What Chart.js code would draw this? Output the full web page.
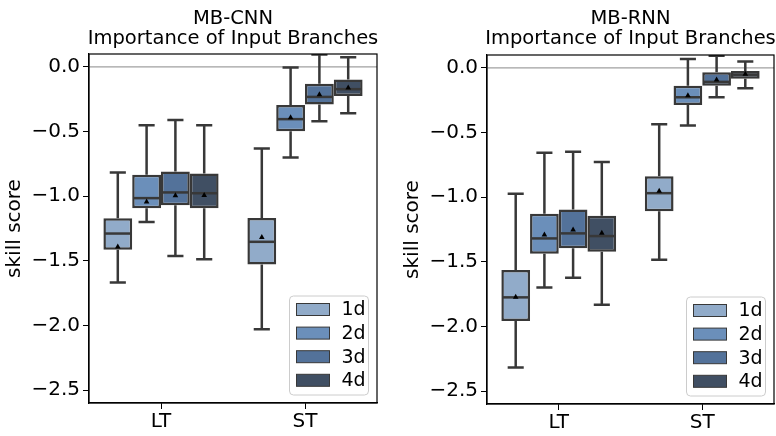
<!DOCTYPE html>
<html lang="en">
<head>
<meta charset="UTF-8">
<title>Importance of Input Branches</title>
<script src="https://cdn.jsdelivr.net/npm/chart.js"></script>
<style>
  body { margin: 0; background: #fff; }
  .panel { position: absolute; top: 0; height: 436px; }
  #left { left: 0; width: 388px; }
  #right { left: 398px; width: 378px; }
</style>
</head>
<body>
<div class="panel" id="left"><canvas id="cnnChart"></canvas></div>
<div class="panel" id="right"><canvas id="rnnChart"></canvas></div>
<script>
const categories = ["LT", "ST"];
const horizons = ["1d", "2d", "3d", "4d"];
const colors = ["#91abc9", "#6b8fba", "#53729a", "#404f63"];
const yTicks = [0.0, -0.5, -1.0, -1.5, -2.0, -2.5];

// each row is one horizon (1d..4d), columns are [LT, ST]
const cnnLow    = [[-1.667, -2.029], [-1.199, -0.701], [-1.462, -0.420], [-1.487, -0.358]];
const cnnQ1     = [[-1.415, -1.528], [-1.093, -0.497], [-1.070, -0.291], [-1.093, -0.224]];
const cnnMedian = [[-1.289, -1.353], [-1.015, -0.404], [-0.971, -0.232], [-0.977, -0.172]];
const cnnQ3     = [[-1.170, -1.168], [-0.835, -0.294], [-0.809, -0.131], [-0.825, -0.097]];
const cnnHigh   = [[-0.817, -0.631], [-0.451, -0.005], [-0.410,  0.096], [-0.451,  0.075]];
const cnnMean   = [[-1.390, -1.315], [-1.042, -0.389], [-0.992, -0.211], [-0.990, -0.159]];

const rnnLow    = [[-2.318, -1.484], [-1.698, -0.446], [-1.623, -0.227], [-1.832, -0.158]];
const rnnQ1     = [[-1.958, -1.108], [-1.437, -0.286], [-1.396, -0.137], [-1.422, -0.083]];
const rnnMedian = [[-1.775, -0.969], [-1.319, -0.227], [-1.280, -0.108], [-1.301, -0.052]];
const rnnQ3     = [[-1.564, -0.838], [-1.128, -0.137], [-1.095, -0.034], [-1.144, -0.023]];
const rnnHigh   = [[-0.974, -0.436], [-0.657,  0.070], [-0.649,  0.095], [-0.727,  0.049]];
const rnnMean   = [[-1.770, -0.951], [-1.288, -0.212], [-1.250, -0.090], [-1.275, -0.046]];

const edge = "#383838";
const fontFamily = "'DejaVu Sans', sans-serif";

function fmt(v) {
  if (Math.abs(v) < 1e-9) return "0.0";
  return (v < 0 ? "\u2212" : "") + Math.abs(v).toFixed(1);
}

const boxExtras = {
  id: "boxExtras",
  beforeDatasetsDraw(chart) {
    const ctx = chart.ctx, area = chart.chartArea, y = chart.scales.y;
    ctx.save();
    ctx.beginPath();
    ctx.rect(area.left, area.top, area.width, area.height);
    ctx.clip();
    // zero reference line
    ctx.strokeStyle = "#a0a0a0";
    ctx.lineWidth = 1.2;
    ctx.beginPath();
    ctx.moveTo(area.left, y.getPixelForValue(0));
    ctx.lineTo(area.right, y.getPixelForValue(0));
    ctx.stroke();
    // whiskers and caps
    ctx.strokeStyle = edge;
    ctx.lineWidth = 2.5;
    chart.data.datasets.forEach((ds, h) => {
      chart.getDatasetMeta(h).data.forEach((bar, i) => {
        const cap = bar.width * 0.28;
        const lo = y.getPixelForValue(ds.low[i]), hi = y.getPixelForValue(ds.high[i]);
        const q1 = y.getPixelForValue(ds.data[i][0]), q3 = y.getPixelForValue(ds.data[i][1]);
        ctx.beginPath();
        ctx.moveTo(bar.x, q1); ctx.lineTo(bar.x, lo);
        ctx.moveTo(bar.x - cap, lo); ctx.lineTo(bar.x + cap, lo);
        ctx.moveTo(bar.x, q3); ctx.lineTo(bar.x, hi);
        ctx.moveTo(bar.x - cap, hi); ctx.lineTo(bar.x + cap, hi);
        ctx.stroke();
      });
    });
    ctx.restore();
  },
  afterDatasetsDraw(chart) {
    const ctx = chart.ctx, y = chart.scales.y;
    ctx.save();
    chart.data.datasets.forEach((ds, h) => {
      chart.getDatasetMeta(h).data.forEach((bar, i) => {
        const half = bar.width / 2;
        const m = y.getPixelForValue(ds.median[i]);
        ctx.strokeStyle = edge;
        ctx.lineWidth = 2.5;
        ctx.beginPath();
        ctx.moveTo(bar.x - half + 1, m); ctx.lineTo(bar.x + half - 1, m);
        ctx.stroke();
        const mu = y.getPixelForValue(ds.mean[i]);
        ctx.fillStyle = "#000";
        ctx.beginPath();
        ctx.moveTo(bar.x, mu - 3);
        ctx.lineTo(bar.x + 2.8, mu + 2);
        ctx.lineTo(bar.x - 2.8, mu + 2);
        ctx.closePath();
        ctx.fill();
      });
    });
    ctx.restore();
  },
  afterDraw(chart, args, opts) {
    const ctx = chart.ctx, area = chart.chartArea;
    ctx.save();
    // frame
    ctx.strokeStyle = "#000";
    ctx.lineWidth = 1.2;
    ctx.strokeRect(area.left, area.top, area.width, area.height);
    // title
    ctx.fillStyle = "#000";
    ctx.font = "19.5px " + fontFamily;
    ctx.textAlign = "center";
    ctx.textBaseline = "alphabetic";
    const cx = (area.left + area.right) / 2;
    ctx.fillText(opts.title[0], cx, 24);
    ctx.fillText(opts.title[1], cx, 44);
    // legend
    const w = 79, hgt = 99;
    const lx = area.right - 8.5 - w, ly = area.bottom - 8 - hgt;
    ctx.fillStyle = "rgba(255,255,255,0.8)";
    ctx.strokeStyle = "#cccccc";
    ctx.lineWidth = 1;
    ctx.beginPath();
    ctx.roundRect(lx, ly, w, hgt, 4);
    ctx.fill();
    ctx.stroke();
    ctx.font = "19px " + fontFamily;
    ctx.textAlign = "left";
    ctx.textBaseline = "middle";
    chart.data.datasets.forEach((ds, h) => {
      const cy = ly + 13.5 + h * 23.6;
      ctx.fillStyle = ds.backgroundColor;
      ctx.fillRect(lx + 7, cy - 6, 33, 12);
      ctx.strokeStyle = edge;
      ctx.lineWidth = 1;
      ctx.strokeRect(lx + 7, cy - 6, 33, 12);
      ctx.fillStyle = "#000";
      ctx.fillText(ds.label, lx + 52, cy + 1);
    });
    ctx.restore();
  }
};

function makeChart(id, title, low, q1, median, q3, high, mean, padTop, padRight, xHeight) {
  const datasets = horizons.map((label, h) => ({
    label: label,
    data: categories.map((c, i) => [q1[h][i], q3[h][i]]),
    low: low[h], high: high[h], median: median[h], mean: mean[h],
    backgroundColor: colors[h],
    borderColor: edge,
    borderWidth: 2.5,
    borderSkipped: false,
    categoryPercentage: 0.8,
    barPercentage: 1.0
  }));
  const tickFont = { family: fontFamily, size: 20 };
  return new Chart(document.getElementById(id), {
    type: "bar",
    data: { labels: categories, datasets: datasets },
    options: {
      responsive: true,
      maintainAspectRatio: false,
      animation: false,
      layout: { padding: { top: padTop, right: padRight, left: 0, bottom: 0 } },
      plugins: {
        legend: { display: false },
        tooltip: { enabled: false },
        boxExtras: { title: title }
      },
      scales: {
        x: {
          offset: true,
          grid: { offset: false, drawOnChartArea: false, tickLength: 6, color: "#000" },
          border: { color: "#000", width: 1.2 },
          ticks: { color: "#000", font: tickFont, padding: 1 },
          afterFit: s => { s.height = xHeight; }
        },
        y: {
          min: -2.6,
          max: 0.1,
          afterBuildTicks: s => { s.ticks = yTicks.map(v => ({ value: v })); },
          grid: { drawOnChartArea: false, tickLength: 6, color: "#000" },
          border: { color: "#000", width: 1.2 },
          ticks: { color: "#000", font: tickFont, padding: 3, callback: v => fmt(v) },
          title: { display: true, text: "skill score", color: "#000", font: tickFont, padding: 3 },
          afterFit: s => { s.width = 89; }
        }
      }
    },
    plugins: [boxExtras]
  });
}

makeChart("cnnChart", ["MB-CNN", "Importance of Input Branches"],
  cnnLow, cnnQ1, cnnMedian, cnnQ3, cnnHigh, cnnMean, 54, 11, 33);
makeChart("rnnChart", ["MB-RNN", "Importance of Input Branches"],
  rnnLow, rnnQ1, rnnMedian, rnnQ3, rnnHigh, rnnMean, 55, 2, 32);
</script>
</body>
</html>
